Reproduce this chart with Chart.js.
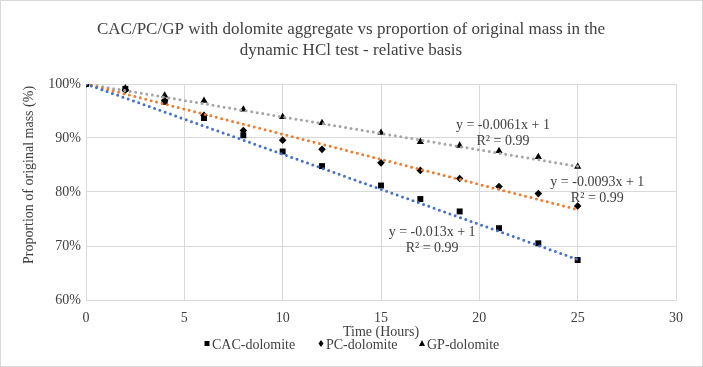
<!DOCTYPE html>
<html>
<head>
<meta charset="utf-8">
<script src="https://cdn.jsdelivr.net/npm/chart.js@4.4.1/dist/chart.umd.min.js"></script>
<style>
  html, body { margin: 0; padding: 0; background: #fff; }
  #wrap { position: relative; width: 703px; height: 367px; box-sizing: border-box; border: 1px solid #d9d9d9; }
  canvas { display: block; }
</style>
</head>
<body>
<div id="wrap"><canvas id="chart" width="701" height="365"></canvas></div>
<script>
// ---------- DATA ----------
const hours = [0, 2, 4, 6, 8, 10, 12, 15, 17, 19, 21, 23, 25];
const cacMass = [1.000, 0.991, 0.967, 0.937, 0.905, 0.875, 0.848, 0.812, 0.787, 0.764, 0.733, 0.705, 0.674];
const pcMass  = [1.000, 0.989, 0.969, 0.942, 0.914, 0.896, 0.879, 0.854, 0.840, 0.825, 0.810, 0.797, 0.774];
const gpMass  = [1.000, 0.992, 0.979, 0.969, 0.953, 0.939, 0.928, 0.910, 0.893, 0.886, 0.876, 0.865, 0.847];

// linear trendlines (end points read from the fitted equations)
const trendX = [0, 25];
const cacTrend = [1, 0.675];
const pcTrend  = [1, 0.7675];
const gpTrend  = [1, 0.8475];

const seriesNames = ["CAC-dolomite", "PC-dolomite", "GP-dolomite"];
const trendColors = ["#4472C4", "#ED7D31", "#A5A5A5"];

const yTicks = [0.6, 0.7, 0.8, 0.9, 1.0];
const xTicks = [0, 5, 10, 15, 20, 25, 30];

// equation labels: [x, y, line1, line2]
const eqLabels = [
  [21.2, 0.923, "y = -0.0061x + 1", "R\u00b2 = 0.99"],
  [26.0, 0.817, "y = -0.0093x + 1", "R\u00b2 = 0.99"],
  [17.6, 0.725, "y = -0.013x + 1",  "R\u00b2 = 0.99"]
];

const titleLines = ["CAC/PC/GP with dolomite aggregate vs proportion of original mass in the", "dynamic HCl test - relative basis"];
const xTitle = "Time (Hours)";
const yTitle = "Proportion of original mass (%)";

const FONT = "'Liberation Serif', 'Times New Roman', serif";
const TXT = "#404040";

const toPts = (xs, ys) => xs.map((x, i) => ({ x, y: ys[i] }));

// ---------- DECOR PLUGIN ----------
const decor = {
  id: "decor",
  afterDraw(chart) {
    const { ctx, scales: { x, y }, chartArea } = chart;
    ctx.save();
    ctx.fillStyle = TXT;
    ctx.textAlign = "center";
    ctx.textBaseline = "middle";

    // title
    ctx.font = "17px " + FONT;
    ctx.fillText(titleLines[0], 350, 29);
    ctx.fillText(titleLines[1], 350, 50);

    // equations
    ctx.font = "14px " + FONT;
    eqLabels.forEach(([lx, ly, a, b]) => {
      const px = x.getPixelForValue(lx), py = y.getPixelForValue(ly);
      ctx.fillText(a, px, py);
      ctx.fillText(b, px, py + 16);
    });

    // axis titles
    ctx.fillText(xTitle, (chartArea.left + chartArea.right) / 2, 331);
    ctx.save();
    ctx.translate(28, 174);
    ctx.rotate(-Math.PI / 2);
    ctx.fillText(yTitle, 0, 0);
    ctx.restore();

    // legend
    const legX = [206, 320, 421];
    const ly = 344;
    ctx.textAlign = "left";
    seriesNames.forEach((name, i) => {
      const mx = legX[i];
      ctx.fillStyle = "#000";
      ctx.beginPath();
      if (i === 0) ctx.rect(mx - 2.5, ly - 4, 5, 5);
      else if (i === 1) { ctx.moveTo(mx, ly - 5); ctx.lineTo(mx + 2.5, ly - 1.5); ctx.lineTo(mx, ly + 2); ctx.lineTo(mx - 2.5, ly - 1.5); ctx.closePath(); }
      else { ctx.moveTo(mx, ly - 5); ctx.lineTo(mx + 3, ly + 1); ctx.lineTo(mx - 3, ly + 1); ctx.closePath(); }
      ctx.fill();
      ctx.fillStyle = TXT;
      ctx.fillText(name, mx + 5, ly);
    });
    ctx.restore();
  }
};

// ---------- CHART ----------
const markerDs = (label, ys, style, r) => ({
  type: "scatter", label, data: toPts(hours, ys), order: 2,
  pointStyle: style, pointRadius: r, pointHoverRadius: r,
  backgroundColor: "#000", borderColor: "#000", borderWidth: 0
});
const trendDs = (label, ys, color) => ({
  type: "line", label, data: toPts(trendX, ys), order: 1,
  borderColor: color, borderWidth: 3, borderDash: [0, 5.6], borderCapStyle: "round",
  pointRadius: 0, fill: false, tension: 0
});

new Chart(document.getElementById("chart"), {
  type: "scatter",
  data: {
    datasets: [
      trendDs("cacTrend", cacTrend, trendColors[0]),
      trendDs("pcTrend", pcTrend, trendColors[1]),
      trendDs("gpTrend", gpTrend, trendColors[2]),
      markerDs(seriesNames[0], cacMass, "rect", 4.2),
      markerDs(seriesNames[1], pcMass, "rectRot", 3.8),
      markerDs(seriesNames[2], gpMass, "triangle", 4.2)
    ]
  },
  options: {
    responsive: false,
    animation: false,
    events: [],
    layout: { padding: { left: 0, top: 83, right: 26, bottom: 26 } },
    plugins: { legend: { display: false }, title: { display: false }, tooltip: { enabled: false } },
    scales: {
      x: {
        type: "linear", min: 0, max: 30,
        afterFit: (s) => { s.height = 40; },
        afterBuildTicks: (s) => { s.ticks = xTicks.map(v => ({ value: v })); },
        grid: { color: "#d9d9d9", lineWidth: 1, drawTicks: false },
        border: { color: "#d9d9d9" },
        ticks: { padding: 10, color: TXT, font: { family: FONT, size: 14 }, maxRotation: 0 }
      },
      y: {
        type: "linear", min: 0.6, max: 1.0,
        afterFit: (s) => { s.width = 85; },
        afterBuildTicks: (s) => { s.ticks = yTicks.map(v => ({ value: v })); },
        grid: { color: "#d9d9d9", lineWidth: 1, drawTicks: false },
        border: { color: "#d9d9d9" },
        ticks: { padding: 5, color: TXT, font: { family: FONT, size: 14 },
          callback: (v) => Math.round(v * 100) + "%" }
      }
    }
  },
  plugins: [decor]
});
</script>
</body>
</html>
